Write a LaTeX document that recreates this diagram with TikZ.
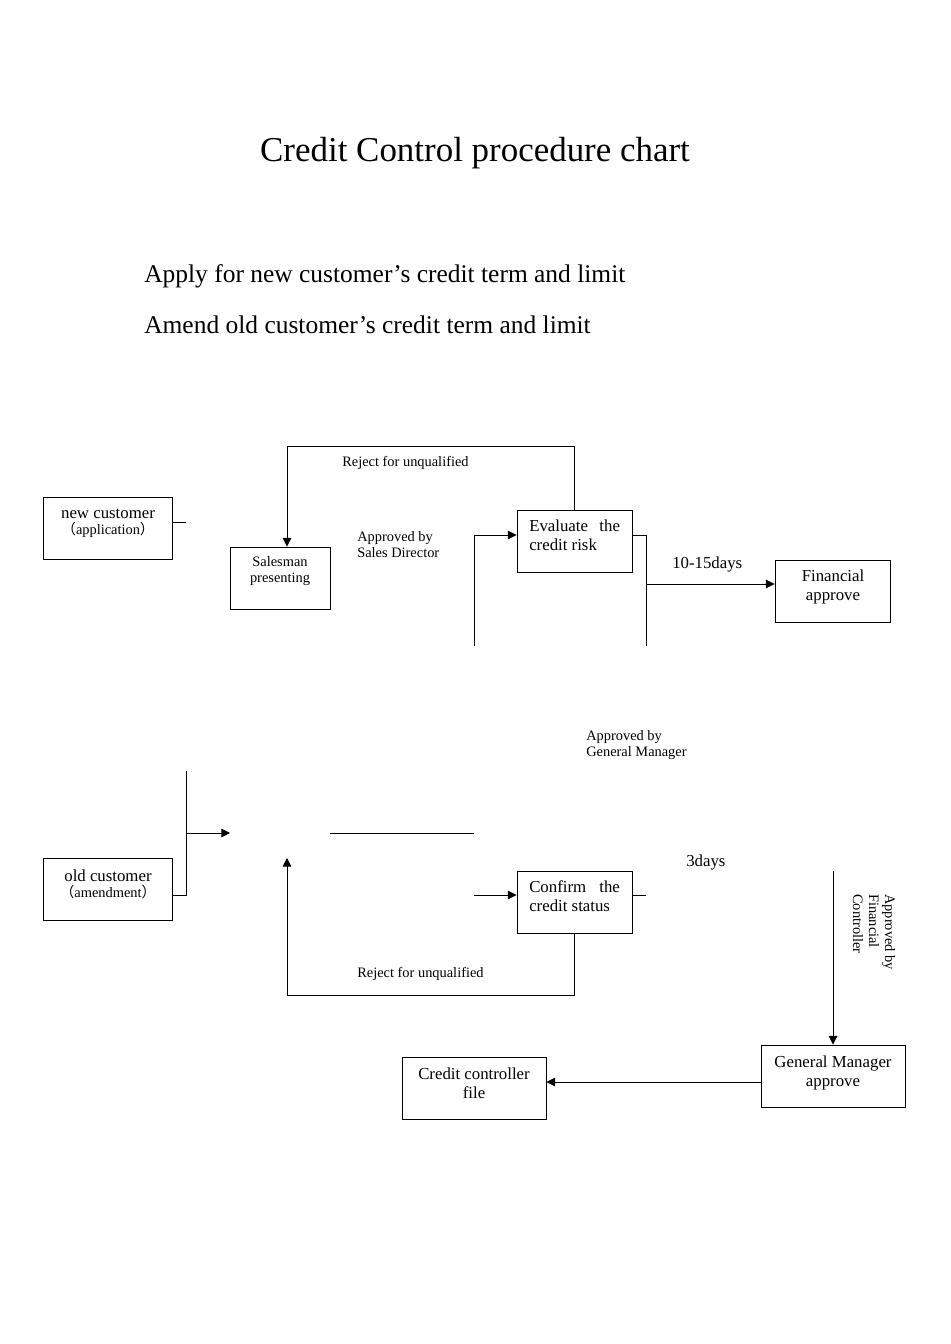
\documentclass[tikz,border=0pt]{standalone}
\usepackage{fontspec}
\setmainfont{Liberation Serif}
\newfontfamily\cjk{Noto Sans CJK SC}
\usetikzlibrary{arrows.meta}
\begin{document}
\begin{tikzpicture}[x=0.75pt,y=-0.75pt,
 box/.style n args={2}{draw, line width=0.7pt, inner sep=0pt, minimum width=#1*0.75pt, minimum height=#2*0.75pt},
 ln/.style={line width=0.7pt},
 arr/.style={ln, -{Triangle[length=6.5pt,width=6.5pt]}},
 big/.style={font=\fontsize{12.6}{14.25}\selectfont, inner sep=0pt},
 small/.style={font=\fontsize{10.8}{12}\selectfont, inner sep=0pt},
 lbl/.style={inner sep=0pt, align=center},
]
\useasboundingbox (0,0) rectangle (950,1344);
% titles
\node[inner sep=0pt, font=\fontsize{26.2}{30}\selectfont] (title) at (475,153) {Credit Control procedure chart};
\node[inner sep=0pt, anchor=west, font=\fontsize{19.1}{22}\selectfont] (sub1) at (144,276) {Apply for new customer’s credit term and limit};
\node[inner sep=0pt, anchor=west, font=\fontsize{19.1}{22}\selectfont] (sub2) at (144,324.5) {Amend old customer’s credit term and limit};
% boxes
\node[box={129}{62}] (nc) at (107.5,528) {};
\node[box={100}{62}] (sm) at (280,578) {};
\node[box={115}{62}] (ev) at (574.5,541) {};
\node[box={115}{62}] (fa) at (832.5,591) {};
\node[box={129}{62}] (oc) at (107.5,889) {};
\node[box={115}{62}] (cf) at (574.5,902) {};
\node[box={144}{62}] (gm) at (833,1076) {};
\node[box={144}{62}] (cc) at (474,1088) {};
% box texts
\node[lbl] (nct) at (108,523.5) {{\fontsize{12.6}{14.25}\selectfont new customer}\\[0pt]{\fontsize{10.8}{12}\selectfont{\cjk （}application{\cjk ）}}};
\node[lbl, small, align=center] (smt) at (280,571) {Salesman\\presenting};
\node[big, align=left, anchor=west] (evt) at (529,535) {\makebox[68pt][s]{Evaluate\hfill the}\\credit risk};
\node[big, align=center] (fat) at (833,587) {Financial\\approve};
\node[lbl] (oct) at (108,884.5) {{\fontsize{12.6}{14.25}\selectfont old customer}\\[0pt]{\fontsize{10.8}{12}\selectfont{\cjk （}amendment{\cjk ）}}};
\node[big, align=left, anchor=west] (cft) at (529,896) {\makebox[68pt][s]{Confirm\hfill the}\\credit status};
\node[big, align=center] (gmt) at (833,1072.5) {General Manager\\approve};
\node[big, align=center] (cct) at (474,1083.5) {Credit controller\\file};
% free labels
\node[small, anchor=west] (rej1) at (342,463) {Reject for unqualified};
\node[small, anchor=west] (rej2) at (357,973.5) {Reject for unqualified};
\node[small, anchor=west, align=left] (apsd) at (357,545) {Approved by\\Sales Director};
\node[small, anchor=west, align=left] (apgm) at (586,745) {Approved by\\General Manager};
\node[big, anchor=west] (d1) at (672,564) {10-15days};
\node[big, anchor=west] (d2) at (686,862) {3days};
\node[small, align=left, rotate=-90] (apfc) at (874,932) {Approved by\\Financial\\Controller};
% coordinates
\coordinate (evlow) at (474,646);
\coordinate (evrlow) at (646,646);
\coordinate (oltop) at (186,771);
\coordinate (midA) at (230,833);
\coordinate (midB) at (330,833);
\coordinate (midC) at (474,833);
\coordinate (cfin) at (474,895);
\coordinate (rejup) at (287,858);
\coordinate (fctop) at (833,871);
% connectors
\draw[ln] ([yshift=4.5pt]nc.east) -- ++(14,0);
\draw[arr] (ev.north) -- ++(0,-63) -| ([xshift=5.25pt]sm.north);
\draw[arr] (evlow) |- ([yshift=4.5pt]ev.west);
\draw[ln] ([yshift=4.5pt]ev.east) -| (evrlow);
\draw[arr] (646,584) -- ([yshift=5.25pt]fa.west);
\draw[ln] (oltop) |- ([yshift=-4.5pt]oc.east);
\draw[arr] (186,833) -- (midA);
\draw[ln] (midB) -- (midC);
\draw[arr] (cfin) -- ([yshift=5.25pt]cf.west);
\draw[ln] ([yshift=5.25pt]cf.east) -- ++(14,0);
\draw[arr] (cf.south) -- ++(0,62) -| (rejup);
\draw[arr] (fctop) -- (gm.north);
\draw[arr] ([yshift=-4.5pt]gm.west) -- ([yshift=-4.5pt]gm.west -| cc.east);
\end{tikzpicture}
\end{document}
